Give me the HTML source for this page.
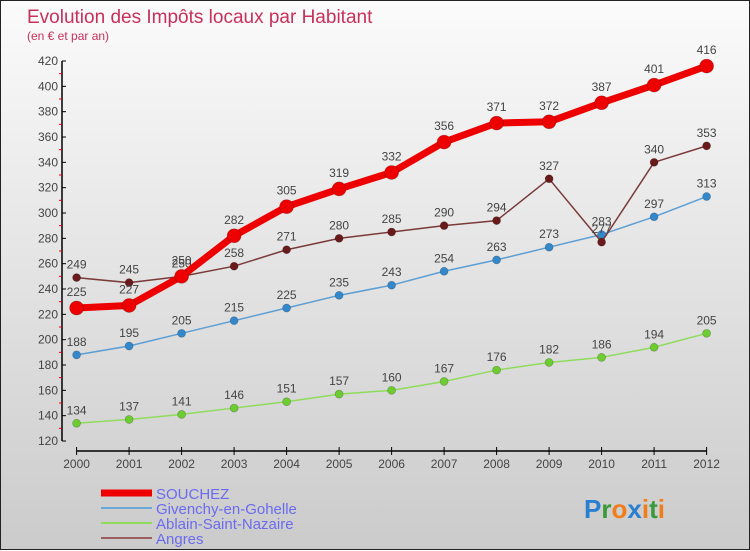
<!DOCTYPE html>
<html><head><meta charset="utf-8"><style>
body{margin:0;width:750px;height:550px;overflow:hidden;font-family:"Liberation Sans",sans-serif}
#wrap{position:relative;width:748px;height:548px;border:1px solid #222;background:linear-gradient(#fbfbfb,#cbcbcb)}
svg{position:absolute;left:0;top:0}
</style></head><body>
<div id="wrap">
<svg id="c" width="750" height="550">
<text x="26" y="22" font-size="19" fill="#c8305a">Evolution des Impôts locaux par Habitant</text>
<text x="26" y="39" font-size="12" fill="#c8305a">(en € et par an)</text>
<g id="axes"></g><g id="series"></g><g id="legend"></g>
<g font-size="26" font-weight="bold" font-family="'Liberation Sans',sans-serif">
<text x="583" y="517"><tspan fill="#2a7fd0">P</tspan><tspan fill="#3a9a3a">r</tspan><tspan fill="#f07d1a">o</tspan><tspan fill="#2a7fd0">x</tspan><tspan fill="#f07d1a">i</tspan><tspan fill="#3a9a3a">t</tspan><tspan fill="#f07d1a">i</tspan></text>
</g>
</svg>
</div>
<script>
const years=[2000,2001,2002,2003,2004,2005,2006,2007,2008,2009,2010,2011,2012];
const souchez=[225,227,250,282,305,319,332,356,371,372,387,401,416];
const givenchy=[188,195,205,215,225,235,243,254,263,273,283,297,313];
const ablain=[134,137,141,146,151,157,160,167,176,182,186,194,205];
const angres=[249,245,250,258,271,280,285,290,294,327,277,340,353];
const yTicks=[120,140,160,180,200,220,240,260,280,300,320,340,360,380,400,420];
const seriesNames=["SOUCHEZ","Givenchy-en-Gohelle","Ablain-Saint-Nazaire","Angres"];
const NS="http://www.w3.org/2000/svg";
const xS=i=>75.6+i*52.5;
const yS=v=>440-(v-120)*(380/300);
function mk(p,t,a){const e=document.createElementNS(NS,t);for(const k in a)e.setAttribute(k,a[k]);p.appendChild(e);return e;}
const ax=document.getElementById('axes');
const yl=mk(ax,'line',{x1:61,y1:yS(420),x2:61,y2:440,stroke:'#000','stroke-width':1.5});


yTicks.forEach(v=>{
 mk(ax,'line',{x1:61,y1:yS(v),x2:65,y2:yS(v),stroke:'#000'});
 if(v<420)mk(ax,'line',{x1:58,y1:yS(v+10),x2:61,y2:yS(v+10),stroke:'#e00'});
 const t=mk(ax,'text',{x:57,y:yS(v)+4,'font-size':12,fill:'#444','text-anchor':'end'});
 t.textContent=v;
 
 
});
const xl=mk(ax,'line',{x1:xS(0),y1:450,x2:xS(12),y2:450,stroke:'#000','stroke-width':1.5});


years.forEach((y,i)=>{
 mk(ax,'line',{x1:xS(i),y1:446,x2:xS(i),y2:454,stroke:'#000'});
 const t=mk(ax,'text',{x:xS(i),y:467,'font-size':12,fill:'#444','text-anchor':'middle'});
 t.textContent=y;
 
 
});
const sg=document.getElementById('series');
const cfg=[[ablain,'#8fdc5c','#6ccc30',1.5,4],[givenchy,'#5c9ed4','#3388cc',1.5,4],[angres,'#7a3a3a','#6a1a1a',1.5,4],[souchez,'#ee0000','#ee0000',7,7]];
const keys=['ablain','givenchy','angres','souchez'];
cfg.forEach((c,k)=>{
 const g=mk(sg,'g',{});
 
 
 const pts=c[0].map((v,i)=>xS(i)+','+yS(v)).join(' ');
 mk(g,'polyline',{points:pts,fill:'none',stroke:c[1],'stroke-width':c[3],'stroke-linejoin':'round'});
 c[0].forEach((v,i)=>{
  const p=mk(g,'circle',{cx:xS(i),cy:yS(v),r:c[4],fill:c[2],stroke:'rgba(0,0,0,0.25)','stroke-width':0.7});
  
  
  const t=mk(g,'text',{x:xS(i),y:yS(v)-(c[4]+5),'font-size':12,fill:'#444','text-anchor':'middle'});
  t.textContent=v;
  
  
 });
});
const lg=document.getElementById('legend');
const lc=[['#ee0000',7],['#6aa6d6',2],['#8fdc5c',2],['#9a6060',2]];
seriesNames.forEach((n,i)=>{
 const y=492+i*15;
 const g=mk(lg,'g',{});
 
 
 mk(g,'line',{x1:100,y1:y,x2:151,y2:y,stroke:lc[i][0],'stroke-width':lc[i][1]});
 const t=mk(g,'text',{x:155,y:y+6,'font-size':15,fill:'#6b6bf0'});
 t.textContent=n;
});
</script>
</body></html>
